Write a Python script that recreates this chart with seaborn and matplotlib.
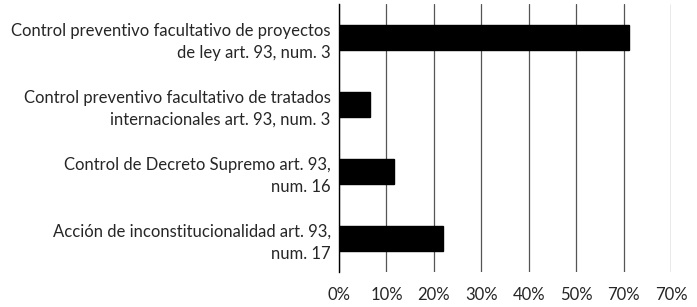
import seaborn as sns
import pandas as pd
import matplotlib.pyplot as plt

categories = [
    'Control preventivo facultativo de proyectos\nde ley art. 93, num. 3',
    'Control preventivo facultativo de tratados\ninternacionales art. 93, num. 3',
    'Control de Decreto Supremo art. 93,\nnum. 16',
    'Acción de inconstitucionalidad art. 93,\nnum. 17',
]
values = [61.2, 6.6, 11.5, 22.0]
xticks = [0, 10, 20, 30, 40, 50, 60, 70]
xtick_labels = ['0%', '10%', '20%', '30%', '40%', '50%', '70%', '70%']


def main():
    sns.set_style('white')
    plt.rcParams['font.family'] = ['Lato', 'DejaVu Sans']

    df = pd.DataFrame({'categoria': categories, 'valor': values})

    fig = plt.figure(figsize=(6.97, 3.07), dpi=100)
    ax = fig.add_axes([0.4864, 0.114, 0.4763, 0.873])

    sns.barplot(data=df, x='valor', y='categoria', orient='h', color='black',
                edgecolor='black', width=0.36, ax=ax, zorder=3)

    ax.set_xlim(0, 70)
    ax.set_xticks(xticks)
    ax.set_xticklabels(xtick_labels, fontsize=12)
    ax.set_ylim(3.5, -0.5)
    ax.set_xlabel('')
    ax.set_ylabel('')

    ax.grid(axis='x', color='#555555', linewidth=0.9)
    ax.grid(axis='y', visible=False)
    for side in ['top', 'right', 'bottom']:
        ax.spines[side].set_visible(False)
    ax.spines['left'].set_color('black')
    ax.spines['left'].set_linewidth(1.0)
    ax.spines['left'].set_zorder(4)

    ax.tick_params(axis='x', length=0, pad=11)
    ax.tick_params(axis='y', length=0, pad=6)
    for lab in ax.get_yticklabels():
        lab.set_fontsize(12)
        lab.set_horizontalalignment('right')
        lab.set_multialignment('right')
        lab.set_linespacing(1.45)

    fig.savefig('out.png', dpi=100)


if __name__ == "__main__":
    main()
